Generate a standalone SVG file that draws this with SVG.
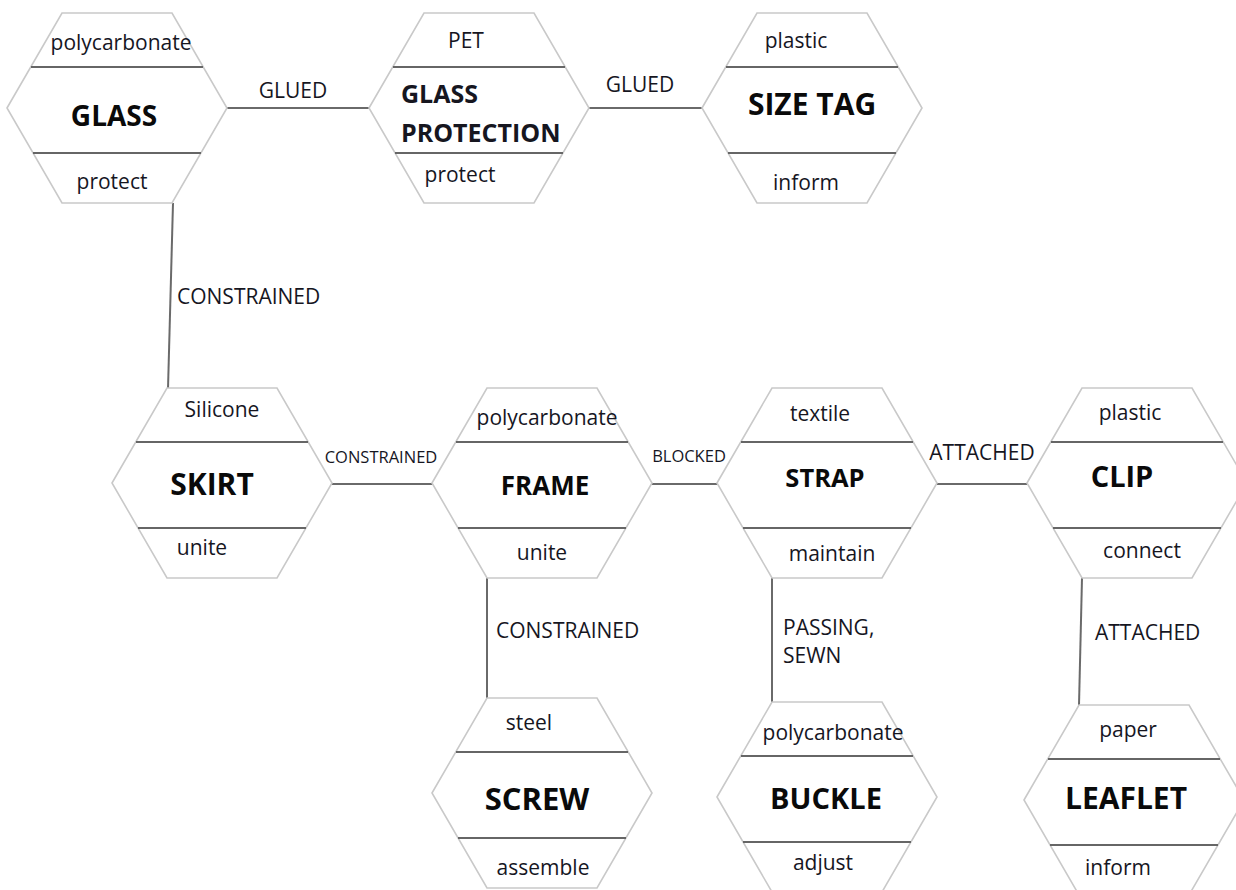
<svg xmlns="http://www.w3.org/2000/svg" width="1236" height="890" viewBox="0 0 1236 890">
<style>
.hex{fill:#ffffff;stroke:#c9c9c9;stroke-width:1.6}
.div{stroke:#666666;stroke-width:2}
.con{stroke:#6a6a6a;stroke-width:2;fill:none}
text{font-family:"Open Sans","Noto Sans","Liberation Sans",sans-serif;fill:#16161f}
.t{font-size:21px;text-anchor:middle}
.n{font-weight:bold;text-anchor:middle;fill:#0a0a0a}
.l{font-size:21px}
.s{font-size:16.5px}
</style>
<rect width="1236" height="890" fill="#ffffff"/>
<defs>
<g id="hx">
<polygon class="hex" points="-110,0 -55,-95 55,-95 110,0 55,95 -55,95"/>
<line class="div" x1="-86" y1="-41" x2="86" y2="-41"/>
<line class="div" x1="-84" y1="45" x2="84" y2="45"/>
</g>
</defs>
<g id="connectors">
<line class="con" x1="227" y1="108" x2="369" y2="108"/>
<line class="con" x1="589" y1="108" x2="703" y2="108"/>
<line class="con" x1="173" y1="203" x2="168" y2="389"/>
<line class="con" x1="331" y1="484" x2="433" y2="484"/>
<line class="con" x1="651" y1="484" x2="718" y2="484"/>
<line class="con" x1="937" y1="484" x2="1027" y2="484"/>
<line class="con" x1="487" y1="578" x2="487" y2="699"/>
<line class="con" x1="772" y1="578" x2="772" y2="702"/>
<line class="con" x1="1082" y1="578" x2="1079" y2="705"/>
<text class="l" x="293" y="98" text-anchor="middle">GLUED</text>
<text class="l" x="640" y="92" text-anchor="middle">GLUED</text>
<text class="l" x="177" y="304">CONSTRAINED</text>
<text class="s" x="381" y="463" text-anchor="middle">CONSTRAINED</text>
<text class="s" x="689" y="462" text-anchor="middle" font-size="15">BLOCKED</text>
<text class="l" x="982" y="460" text-anchor="middle">ATTACHED</text>
<text class="l" x="496" y="638">CONSTRAINED</text>
<text class="l" x="783" y="635">PASSING,</text>
<text class="l" x="783" y="663">SEWN</text>
<text class="l" x="1095" y="640">ATTACHED</text>
</g>
<g id="glass">
<use href="#hx" x="117" y="108"/>
<text class="t" x="121" y="50">polycarbonate</text>
<text class="n" x="114" y="126" font-size="28">GLASS</text>
<text class="t" x="112" y="189">protect</text>
</g>
<g id="glass-protection">
<use href="#hx" x="479" y="108"/>
<text class="t" x="466" y="48">PET</text>
<text font-weight="bold" font-size="25" x="401" y="103" fill="#0a0a0a">GLASS</text>
<text font-weight="bold" font-size="25" x="401" y="142" fill="#0a0a0a">PROTECTION</text>
<text class="t" x="460" y="182">protect</text>
</g>
<g id="size-tag">
<use href="#hx" x="812" y="108"/>
<text class="t" x="796" y="48">plastic</text>
<text class="n" x="812" y="115" font-size="30">SIZE TAG</text>
<text class="t" x="806" y="190">inform</text>
</g>
<g id="skirt">
<use href="#hx" x="222" y="483"/>
<text class="t" x="222" y="417" font-size="17" fill="#444">Silicone</text>
<text class="n" x="212" y="495" font-size="30">SKIRT</text>
<text class="t" x="202" y="555">unite</text>
</g>
<g id="frame">
<use href="#hx" x="542" y="483"/>
<text class="t" x="547" y="425">polycarbonate</text>
<text class="n" x="545" y="495" font-size="26">FRAME</text>
<text class="t" x="542" y="560">unite</text>
</g>
<g id="strap">
<use href="#hx" x="827" y="483"/>
<text class="t" x="820" y="421">textile</text>
<text class="n" x="825" y="487" font-size="25.5" fill="#2c2c2c">STRAP</text>
<text class="t" x="832" y="561">maintain</text>
</g>
<g id="clip">
<use href="#hx" x="1137" y="483"/>
<text class="t" x="1130" y="420">plastic</text>
<text class="n" x="1122" y="487" font-size="29">CLIP</text>
<text class="t" x="1142" y="558">connect</text>
</g>
<g id="screw">
<use href="#hx" x="542" y="793"/>
<text class="t" x="529" y="730">steel</text>
<text class="n" x="537" y="810" font-size="31">SCREW</text>
<text class="t" x="543" y="875">assemble</text>
</g>
<g id="buckle">
<use href="#hx" x="827" y="797"/>
<text class="t" x="833" y="740">polycarbonate</text>
<text class="n" x="826" y="809" font-size="29">BUCKLE</text>
<text class="t" x="823" y="870">adjust</text>
</g>
<g id="leaflet">
<use href="#hx" x="1134" y="800"/>
<text class="t" x="1128" y="737">paper</text>
<text class="n" x="1126" y="809" font-size="30">LEAFLET</text>
<text class="t" x="1118" y="875">inform</text>
</g>
</svg>
